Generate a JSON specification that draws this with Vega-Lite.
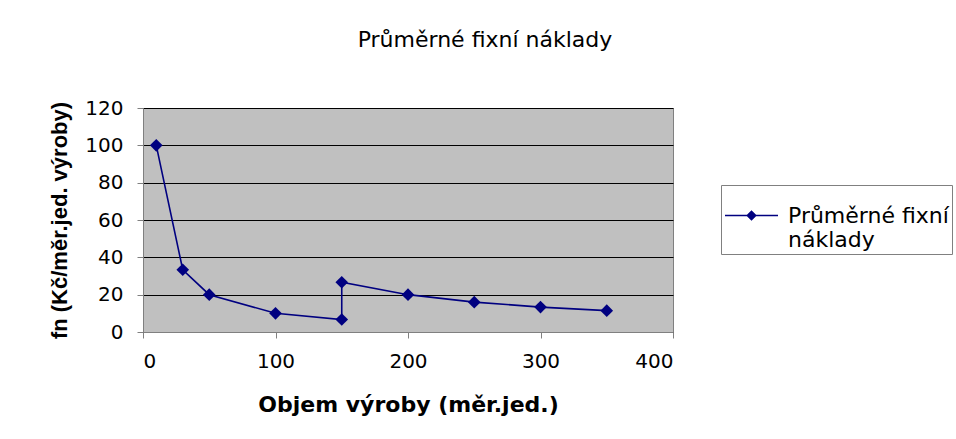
{
  "$schema": "https://vega.github.io/schema/vega-lite/v6.json",
  "width": 530,
  "height": 224,
  "autosize": {"type": "none"},
  "padding": {"left": 143, "top": 108, "right": 283, "bottom": 107},
  "background": "white",
  "title": {
    "text": "Průměrné fixní náklady",
    "font": "DejaVu Sans",
    "fontSize": 22,
    "fontWeight": "normal",
    "color": "#000000",
    "anchor": "middle",
    "dx": 77,
    "offset": 46
  },
  "data": {
    "values": [
      {"i": 1, "x": 10, "y": 100, "s": "Průměrné fixní náklady"},
      {"i": 2, "x": 30, "y": 33.33, "s": "Průměrné fixní náklady"},
      {"i": 3, "x": 50, "y": 20, "s": "Průměrné fixní náklady"},
      {"i": 4, "x": 100, "y": 10, "s": "Průměrné fixní náklady"},
      {"i": 5, "x": 150, "y": 6.67, "s": "Průměrné fixní náklady"},
      {"i": 6, "x": 150, "y": 26.67, "s": "Průměrné fixní náklady"},
      {"i": 7, "x": 200, "y": 20, "s": "Průměrné fixní náklady"},
      {"i": 8, "x": 250, "y": 16, "s": "Průměrné fixní náklady"},
      {"i": 9, "x": 300, "y": 13.33, "s": "Průměrné fixní náklady"},
      {"i": 10, "x": 350, "y": 11.43, "s": "Průměrné fixní náklady"}
    ]
  },
  "encoding": {
    "x": {
      "field": "x",
      "type": "quantitative",
      "scale": {"domain": [0, 400], "nice": false},
      "axis": {
        "title": "Objem výroby (měr.jed.)",
        "titleFont": "DejaVu Sans",
        "titleFontSize": 22,
        "values": [0, 100, 200, 300, 400],
        "grid": false,
        "domainColor": "#808080",
        "tickColor": "#808080",
        "tickSize": 6,
        "labelPadding": 13,
        "titlePadding": 23
      }
    },
    "y": {
      "field": "y",
      "type": "quantitative",
      "scale": {"domain": [0, 120], "nice": false},
      "axis": {
        "title": "fn (Kč/měr.jed. výroby)",
        "titleFont": "Liberation Sans",
        "titleFontSize": 22,
        "values": [0, 20, 40, 60, 80, 100, 120],
        "grid": true,
        "gridColor": "#000000",
        "gridWidth": 1,
        "domainColor": "#808080",
        "tickColor": "#808080",
        "tickSize": 6,
        "labelPadding": 14,
        "titlePadding": 13
      }
    },
    "order": {"field": "i", "type": "quantitative"}
  },
  "layer": [
    {
      "mark": {"type": "line", "color": "#000080", "strokeWidth": 1.6},
      "encoding": {
        "color": {
          "field": "s",
          "type": "nominal",
          "scale": {"range": ["#000080"]},
          "legend": {
            "orient": "none",
            "legendX": 578,
            "legendY": 77,
            "title": null,
            "symbolType": "M-1,0H1M-0.16,0L0,-0.16L0.16,0L0,0.16Z",
            "symbolSize": 2809,
            "symbolFillColor": "#000080",
            "symbolStrokeColor": "#000080",
            "symbolStrokeWidth": 1.5,
            "labelExpr": "['Průměrné fixní', 'náklady']",
            "labelFont": "DejaVu Sans",
            "labelFontSize": 22,
            "labelColor": "#000000",
            "labelLimit": 400,
            "labelOffset": 9,
            "strokeColor": "#808080",
            "padding": 3,
            "fillColor": "white"
          }
        }
      }
    },
    {
      "mark": {"type": "point", "shape": "diamond", "filled": true, "color": "#000080", "size": 160, "opacity": 1}
    }
  ],
  "config": {
    "view": {"fill": "#C0C0C0", "stroke": "#808080", "strokeWidth": 1},
    "axis": {
      "labelFont": "DejaVu Sans",
      "labelFontSize": 20,
      "labelColor": "#000000",
      "titleFontWeight": "bold",
      "titleColor": "#000000"
    }
  }
}
